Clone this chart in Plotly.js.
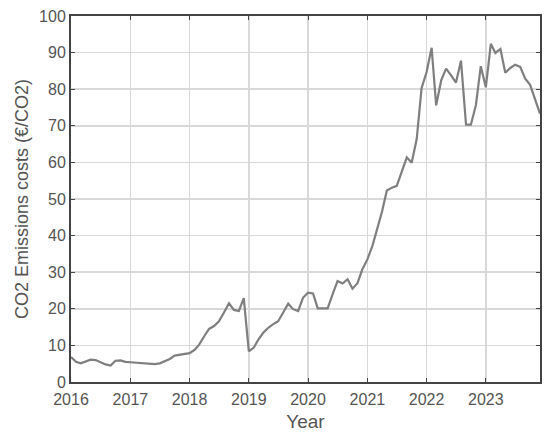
<!DOCTYPE html>
<html>
<head>
<meta charset="utf-8">
<script src="https://cdn.plot.ly/plotly-3.0.1.min.js"></script>
<style>
  html, body { margin: 0; padding: 0; background: #fff; }
  #chart { width: 550px; height: 437px; }
</style>
</head>
<body>
<div id="chart"></div>
<script>
// monthly series, Jan 2016 .. Dec 2023
const startYear = 2016;
const yearTicks = [2016, 2017, 2018, 2019, 2020, 2021, 2022, 2023];
const costs = [
    // 2016
    6.8, 5.5, 5.1, 5.6, 6.1, 6.0, 5.4, 4.8, 4.5, 5.8, 5.9, 5.5,
    // 2017
    5.4, 5.3, 5.2, 5.0, 4.9, 4.9, 5.1, 5.6, 6.3, 7.2, 7.5, 7.8,
    // 2018
    7.9, 8.8, 10.2, 12.5, 14.5, 15.3, 16.6, 19.0, 21.5, 19.7, 19.4, 22.9,
    // 2019
    8.4, 9.4, 11.6, 13.5, 14.8, 15.8, 16.6, 19.0, 21.4, 19.9, 19.4, 23.0,
    // 2020
    24.4, 24.2, 20.1, 20.1, 20.1, 24.0, 27.6, 26.9, 28.1, 25.5, 27.0, 30.8,
    // 2021
    33.5, 37.2, 41.5, 46.5, 52.3, 53.1, 53.6, 57.3, 61.4, 59.9, 66.4, 80.3,
    // 2022
    84.7, 91.3, 75.6, 82.4, 85.6, 83.8, 81.8, 87.8, 70.3, 70.3, 75.7, 86.3,
    // 2023
    80.5, 92.4, 89.9, 91.0, 84.5, 85.8, 86.7, 86.1, 82.9, 81.2, 77.4, 73.3
];

// build month dates for each value
const months = costs.map((v, i) => {
    const y = startYear + Math.floor(i / 12);
    const m = (i % 12) + 1;
    return y + '-' + String(m).padStart(2, '0') + '-01';
});

const font = { family: 'Liberation Sans, Arial, sans-serif', size: 16, color: '#555' };

Plotly.newPlot('chart', [{
    x: months,
    y: costs,
    mode: 'lines',
    line: { color: '#7f7f7f', width: 2.2 },
    hoverinfo: 'skip'
}], {
    width: 550,
    height: 437,
    margin: { l: 71, r: 10, t: 16, b: 55 },
    paper_bgcolor: '#fff',
    plot_bgcolor: '#fff',
    showlegend: false,
    font: font,
    xaxis: {
        type: 'date',
        range: ['2016-01-01', months[months.length - 1]],
        tickvals: yearTicks.map(y => y + '-01-01'),
        ticktext: yearTicks.map(String),
        ticks: 'inside',
        ticklen: 4,
        tickcolor: '#444',
        ticklabelstandoff: 2,
        showline: true,
        linecolor: '#444',
        linewidth: 2,
        mirror: 'ticks',
        showgrid: true,
        gridcolor: '#d9d9d9',
        gridwidth: 1.5,
        zeroline: false,
        tickfont: { size: 16, color: '#555' },
        title: { text: 'Year', font: { size: 19, color: '#555' }, standoff: 7 }
    },
    yaxis: {
        range: [0, 100],
        dtick: 10,
        ticks: 'inside',
        ticklen: 4,
        tickcolor: '#444',
        showline: true,
        linecolor: '#444',
        linewidth: 2,
        mirror: 'ticks',
        showgrid: true,
        gridcolor: '#d9d9d9',
        gridwidth: 1.5,
        zeroline: false,
        tickfont: { size: 16, color: '#555' },
        title: { text: 'CO2 Emissions costs (€/CO2)', font: { size: 18, color: '#555' }, standoff: 6 }
    }
}, { displayModeBar: false, staticPlot: true });
</script>
</body>
</html>
